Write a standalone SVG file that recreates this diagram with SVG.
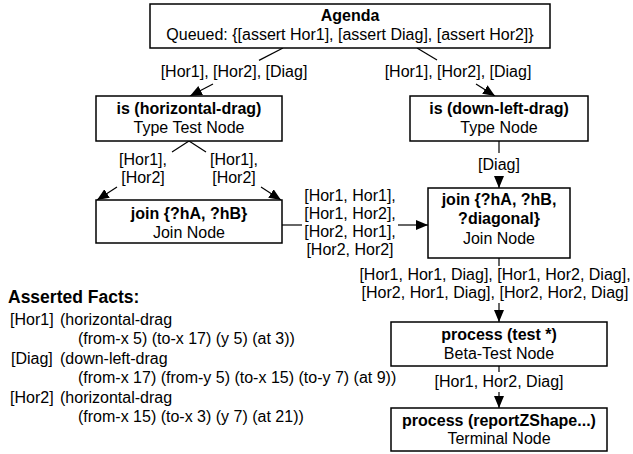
<svg xmlns="http://www.w3.org/2000/svg" width="633" height="454" viewBox="0 0 633 454">
<defs>
<marker id="arr" markerWidth="12" markerHeight="10" refX="12" refY="5" orient="auto" markerUnits="userSpaceOnUse"><path d="M0,0 L12,5 L0,10 z" fill="#000"/></marker>
<style>
.box{fill:#fff;stroke:#000;stroke-width:1.5}
text{font-family:"Liberation Sans",Arial,Helvetica,sans-serif;font-size:16px;fill:#000}
.b{font-weight:bold}
.c{text-anchor:middle}
.h{font-size:17.5px}
.ln{stroke:#000;stroke-width:1.2;fill:none}
.ar{stroke:#000;stroke-width:1.2;fill:none;marker-end:url(#arr)}
</style>
</defs>
<rect width="633" height="454" fill="#fff"/>
<g id="connectors">
<line class="ln" x1="283" y1="48" x2="259" y2="60.4"/>
<line class="ar" x1="213" y1="84" x2="190" y2="96"/>
<text class="c" x="234" y="77">[Hor1], [Hor2], [Diag]</text>
<line class="ln" x1="417" y1="48" x2="437" y2="60"/>
<line class="ar" x1="476" y1="84" x2="495" y2="96"/>
<text class="c" x="458" y="77">[Hor1], [Hor2], [Diag]</text>
<line class="ln" x1="189" y1="141" x2="172" y2="152"/>
<line class="ar" x1="117" y1="187" x2="97" y2="200"/>
<text class="c" x="143" y="165">[Hor1],</text>
<text class="c" x="143" y="183">[Hor2]</text>
<line class="ln" x1="189" y1="141" x2="206" y2="152"/>
<line class="ar" x1="261" y1="187" x2="281" y2="200"/>
<text class="c" x="234" y="165">[Hor1],</text>
<text class="c" x="234" y="183">[Hor2]</text>
<line class="ln" x1="282" y1="225" x2="302" y2="225"/>
<line class="ar" x1="398" y1="225" x2="428" y2="225"/>
<text class="c" x="350" y="201">[Hor1, Hor1],</text>
<text class="c" x="350" y="219">[Hor1, Hor2],</text>
<text class="c" x="350" y="237">[Hor2, Hor1],</text>
<text class="c" x="350" y="255">[Hor2, Hor2]</text>
<line class="ln" x1="499" y1="141" x2="499" y2="153"/>
<line class="ar" x1="499" y1="176" x2="499" y2="188"/>
<text class="c" x="499" y="170">[Diag]</text>
<line class="ln" x1="499" y1="258" x2="499" y2="266"/>
<line class="ar" x1="499" y1="303" x2="499" y2="322"/>
<text class="c" x="495" y="280">[Hor1, Hor1, Diag], [Hor1, Hor2, Diag],</text>
<text class="c" x="495" y="298">[Hor2, Hor1, Diag], [Hor2, Hor2, Diag]</text>
<line class="ln" x1="499" y1="366" x2="499" y2="372"/>
<line class="ar" x1="499" y1="392" x2="499" y2="408"/>
<text class="c" x="499" y="387">[Hor1, Hor2, Diag]</text>
</g>
<g id="agenda">
<rect class="box" x="150" y="4" width="400" height="44"/>
<text class="c b" x="350" y="21">Agenda</text>
<text class="c" x="350" y="40">Queued: {[assert Hor1], [assert Diag], [assert Hor2]}</text>
</g>
<g id="typeL">
<rect class="box" x="96" y="96" width="186" height="45"/>
<text class="c b" x="189" y="114">is (horizontal-drag)</text>
<text class="c" x="189" y="133">Type Test Node</text>
</g>
<g id="typeR">
<rect class="box" x="410" y="96" width="178" height="45"/>
<text class="c b" x="499" y="114">is (down-left-drag)</text>
<text class="c" x="499" y="133">Type Node</text>
</g>
<g id="joinL">
<rect class="box" x="96" y="200" width="186" height="43"/>
<text class="c b" x="189" y="219">join {?hA, ?hB}</text>
<text class="c" x="189" y="238">Join Node</text>
</g>
<g id="joinR">
<rect class="box" x="428" y="188" width="142" height="70"/>
<text class="c b" x="499" y="205">join {?hA, ?hB,</text>
<text class="c b" x="499" y="224">?diagonal}</text>
<text class="c" x="499" y="244">Join Node</text>
</g>
<g id="proc">
<rect class="box" x="391" y="322" width="216" height="44"/>
<text class="c b" x="499" y="340">process (test *)</text>
<text class="c" x="499" y="359">Beta-Test Node</text>
</g>
<g id="term">
<rect class="box" x="391" y="408" width="216" height="43"/>
<text class="c b" x="499" y="426">process (reportZShape...)</text>
<text class="c" x="499" y="444">Terminal Node</text>
</g>
<g id="facts">
<text class="b h" x="8" y="303">Asserted Facts:</text>
<text x="10" y="325">[Hor1]</text><text x="60" y="325">(horizontal-drag</text>
<text x="78" y="344">(from-x 5) (to-x 17) (y 5) (at 3))</text>
<text x="11" y="364">[Diag]</text><text x="60" y="364">(down-left-drag</text>
<text x="78" y="383">(from-x 17) (from-y 5) (to-x 15) (to-y 7) (at 9))</text>
<text x="10" y="403">[Hor2]</text><text x="60" y="403">(horizontal-drag</text>
<text x="78" y="422">(from-x 15) (to-x 3) (y 7) (at 21))</text>
</g>
</svg>
